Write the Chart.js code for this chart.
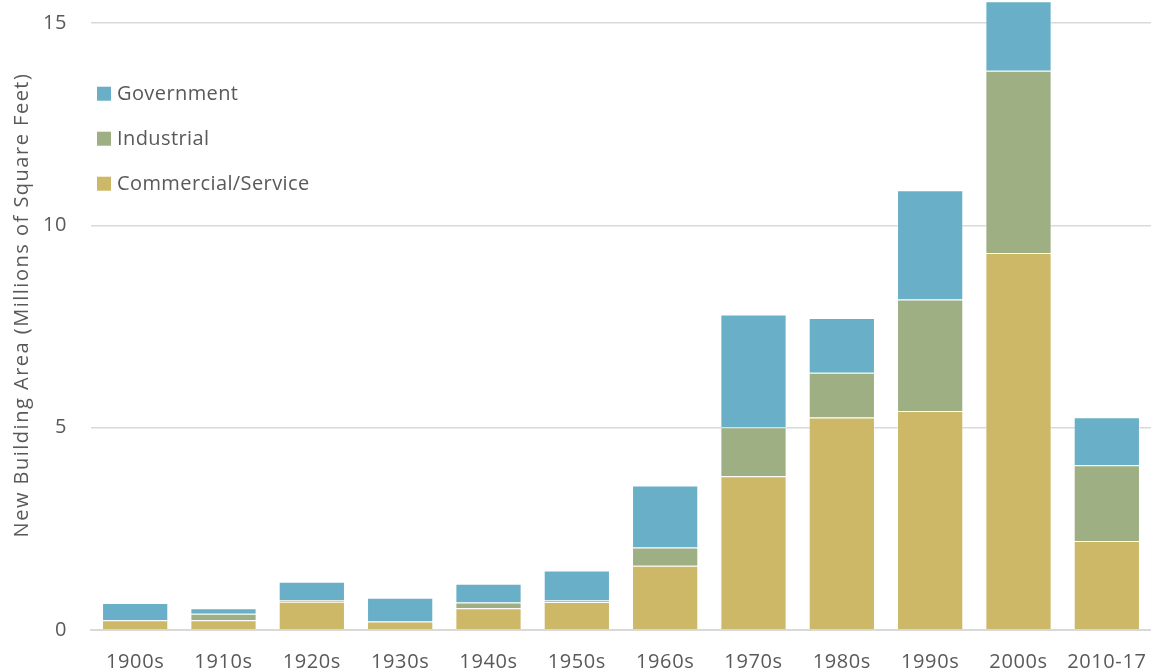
<!DOCTYPE html>
<html>
<head>
<meta charset="utf-8">
<script src="https://cdn.jsdelivr.net/npm/chart.js@4.4.1/dist/chart.umd.min.js"></script>
<style>
  html, body { margin: 0; padding: 0; background: #fff; }
  #wrap { width: 1151px; height: 672px; position: relative; }
</style>
</head>
<body>
<div id="wrap"><canvas id="grafico"></canvas></div>
<script>
const decadas = ["1900s", "1910s", "1920s", "1930s", "1940s", "1950s", "1960s", "1970s", "1980s", "1990s", "2000s", "2010-17"];
const comercial = [0.24, 0.24, 0.70, 0.21, 0.54, 0.69, 1.59, 3.80, 5.25, 5.41, 9.32, 2.20];
const industrial = [0, 0.16, 0.04, 0, 0.14, 0.04, 0.45, 1.21, 1.11, 2.76, 4.50, 1.87];
const governo = [0.43, 0.14, 0.45, 0.59, 0.46, 0.74, 1.53, 2.79, 1.35, 2.70, 1.72, 1.19];
const ticksY = [0, 5, 10, 15];
const tituloY = "New Building Area (Millions of Square Feet)";

const cinza = "#595959";
const fonte = "'Open Sans', 'Noto Sans', sans-serif";

// espaçamento extra nas letras para aproximar a fonte original (mais larga)
const espacamento = {
  id: "espacamento",
  beforeDraw(chart) { chart.ctx.letterSpacing = "0.6px"; },
  afterDraw(chart) { chart.ctx.letterSpacing = "0px"; }
};

// título do eixo Y e legenda desenhados à mão (legenda dentro da área, ordem invertida)
const extras = {
  id: "extras",
  afterDraw(chart) {
    const ctx = chart.ctx;
    const area = chart.chartArea;
    ctx.save();
    ctx.font = "20px " + fonte;
    ctx.fillStyle = cinza;

    ctx.save();
    ctx.letterSpacing = "1.5px";
    ctx.translate(22, (area.top + area.bottom) / 2 - 10);
    ctx.rotate(-Math.PI / 2);
    ctx.textAlign = "center";
    ctx.textBaseline = "middle";
    ctx.fillText(tituloY, 0, 0);
    ctx.restore();

    ctx.letterSpacing = "0.4px";
    ctx.textBaseline = "middle";
    const ds = chart.data.datasets.slice().reverse();
    ds.forEach((d, i) => {
      const y = 93.7 + i * 45;
      ctx.fillStyle = d.backgroundColor;
      ctx.fillRect(97, y - 7, 14, 14);
      ctx.fillStyle = cinza;
      ctx.fillText(d.label, 117, y + 1);
    });
    ctx.restore();
  }
};

new Chart(document.getElementById("grafico"), {
  type: "bar",
  data: {
    labels: decadas,
    datasets: [
      { label: "Commercial/Service", data: comercial, backgroundColor: "#CDB868" },
      { label: "Industrial", data: industrial, backgroundColor: "#9DAF83" },
      { label: "Government", data: governo, backgroundColor: "#6AAFC8" }
    ]
  },
  options: {
    responsive: true,
    maintainAspectRatio: false,
    animation: false,
    layout: { padding: 0 },
    datasets: {
      bar: {
        categoryPercentage: 0.75,
        barPercentage: 1,
        borderColor: "rgba(255,255,255,0.35)",
        borderWidth: 1
      }
    },
    plugins: {
      legend: { display: false },
      tooltip: { enabled: false }
    },
    scales: {
      x: {
        stacked: true,
        grid: { display: false, drawTicks: false },
        border: { color: "#d9d9d9", width: 2 },
        ticks: { color: cinza, padding: 20, font: { family: fonte, size: 20 }, maxRotation: 0 },
        afterFit(s) { s.height = 42; s.paddingLeft = 0; s.paddingRight = 0; }
      },
      y: {
        stacked: true,
        min: 0,
        max: 15.57,
        grid: { color: "#d9d9d9", lineWidth: 1.5, drawTicks: false },
        border: { display: false },
        ticks: { stepSize: 5, color: cinza, padding: 24, font: { family: fonte, size: 20 } },
        afterBuildTicks(s) { s.ticks = ticksY.map(v => ({ value: v })); },
        afterFit(s) { s.width = 91; s.paddingTop = 0; s.paddingBottom = 0; }
      }
    }
  },
  plugins: [espacamento, extras]
});
</script>
</body>
</html>
